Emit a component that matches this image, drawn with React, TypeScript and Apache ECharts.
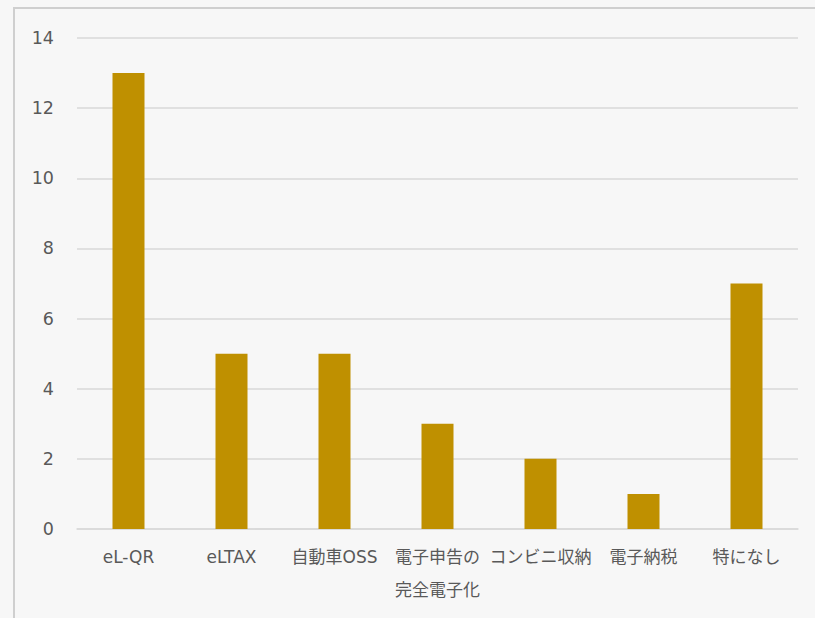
import React, { useEffect, useRef } from "react";
import * as echarts from "echarts";

const categories = ["eL-QR", "eLTAX", "自動車OSS", "電子申告の\n完全電子化", "コンビニ収納", "電子納税", "特になし"];
const values = [13, 5, 5, 3, 2, 1, 7];

export default function App() {
  const ref = useRef<HTMLDivElement>(null);
  useEffect(() => {
    if (!ref.current) return;
    const chart = echarts.init(ref.current, undefined, { renderer: "svg" });
    chart.setOption({
      animation: false,
      backgroundColor: "transparent",
      textStyle: { fontFamily: "'DejaVu Sans', 'Noto Sans CJK JP', sans-serif" },
      grid: { left: 77, right: 17, top: 38, bottom: 89 },
      xAxis: {
        type: "category",
        data: categories,
        axisLine: { lineStyle: { color: "#d9d9d9", width: 1.5 } },
        axisTick: { show: false },
        axisLabel: { color: "#595959", fontSize: 17, margin: 11, lineHeight: 33, interval: 0 },
      },
      yAxis: {
        type: "value",
        min: 0,
        max: 14,
        interval: 2,
        axisLine: { show: false },
        axisTick: { show: false },
        splitLine: { lineStyle: { color: "#d9d9d9", width: 1.5 } },
        axisLabel: { color: "#595959", fontSize: 17.5, margin: 23 },
      },
      series: [
        {
          type: "bar",
          data: values,
          barWidth: 32,
          itemStyle: { color: "#BF9000" },
        },
      ],
    });
    return () => chart.dispose();
  }, []);
  return (
    <div style={{ position: "fixed", left: 0, top: 0, width: 815, height: 618, background: "#f7f7f7", overflow: "hidden" }}>
      <div style={{ position: "absolute", left: 13, top: 7, width: 900, height: 700, border: "2px solid #cfcfcf", boxSizing: "border-box" }} />
      <div ref={ref} style={{ position: "absolute", left: 0, top: 0, width: 815, height: 618 }} />
    </div>
  );
}
